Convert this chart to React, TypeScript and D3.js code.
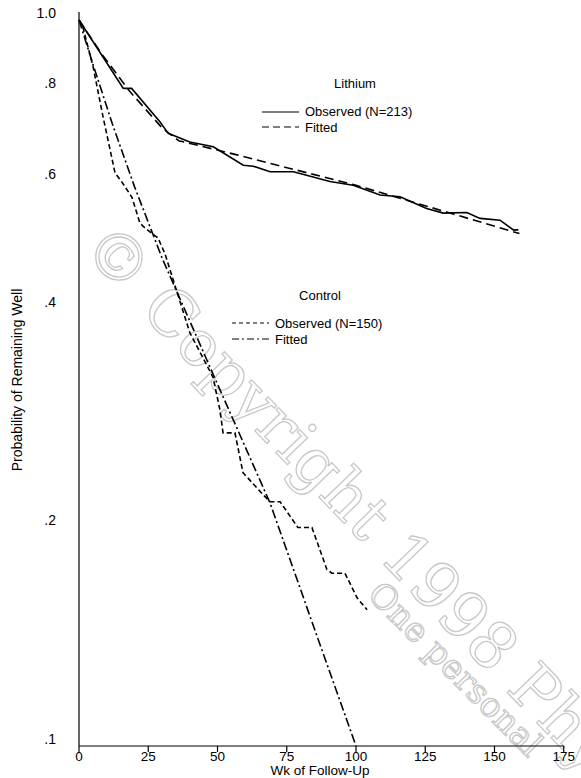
import React from "react";
import * as d3 from "d3";

const lithiumObserved: [number, number][] = [
  [0, 1], [16, 0.805], [19, 0.805], [29.2, 0.724], [32.2, 0.698], [40, 0.679], [48.5, 0.669],
  [59.3, 0.631], [62.9, 0.629], [69, 0.618], [77.4, 0.618], [90.6, 0.599], [99, 0.592],
  [108.7, 0.574], [115.9, 0.571], [125.5, 0.55], [131.5, 0.542], [140, 0.543], [144.8, 0.533],
  [152, 0.53], [156.8, 0.514], [158.6, 0.514],
];
const lithiumFitted: [number, number][] = [
  [0, 1], [8, 0.9], [18, 0.8], [30, 0.71], [36, 0.682], [57, 0.652], [100, 0.592], [159, 0.508],
];
const controlObserved: [number, number][] = [
  [0, 1], [1.4, 0.978], [5.1, 0.862], [8.7, 0.735], [13, 0.616], [15.5, 0.598], [19.1, 0.57],
  [22, 0.525], [23.8, 0.517], [28.5, 0.501], [31, 0.477], [40, 0.371], [48.4, 0.322],
  [50.9, 0.29], [52, 0.27], [56.3, 0.27], [59.2, 0.238], [66.4, 0.222], [69, 0.217],
  [72.6, 0.217], [79, 0.2], [84.1, 0.2], [89.5, 0.175], [91.3, 0.173], [96, 0.173],
  [100.4, 0.16], [104, 0.154],
];
const controlFitted: [number, number][] = [
  [0, 1], [5, 0.87], [12, 0.72], [20, 0.59], [30, 0.47], [50, 0.315], [69, 0.216], [85, 0.145], [100, 0.1],
];
const xTicks = [0, 25, 50, 75, 100, 125, 150, 175];
const yTicks = [0.1, 0.2, 0.4, 0.6, 0.8, 1.0];
const yTickLabels = [".1", ".2", ".4", ".6", ".8", "1.0"];

export default function App() {
  const x = d3.scaleLinear().domain([0, 175]).range([79, 563.75]);
  const y = d3.scaleLog().domain([0.1, 1]).range([746, 20]);
  const line = d3.line<[number, number]>().x((d) => x(d[0])).y((d) => y(d[1]));
  const font = "'Liberation Sans', Arial, sans-serif";
  return (
    <svg width={581} height={778} style={{ position: "absolute", left: 0, top: 0 }} fontFamily={font}>
      <rect width={581} height={778} fill="#fff" />
      <g fill="none" stroke="#c8c8c8" strokeWidth={1.3} fontFamily="'DejaVu Serif', serif">
        <text transform="translate(80,250) rotate(46)" fontSize={64} fill="none">© Copyright 1998 Phys</text>
        <text transform="translate(366,596) rotate(45)" fontSize={34} fill="none">One personal</text>
      </g>
      <line x1={x(0)} x2={x(0)} y1={12} y2={746} stroke="#000" strokeWidth={1.2} />
      <line x1={x(0)} x2={x(175)} y1={746} y2={746} stroke="#000" strokeWidth={1.2} />
      {xTicks.map((t) => (
        <g key={t}>
          <line x1={x(t)} x2={x(t)} y1={746} y2={752} stroke="#000" strokeWidth={1.2} />
          <text x={x(t)} y={761} fontSize={13.5} textAnchor="middle">{t}</text>
        </g>
      ))}
      {yTicks.map((t, i) => (
        <text key={t} x={56} y={y(t) - 6} fontSize={14} textAnchor="end" dominantBaseline="middle">{yTickLabels[i]}</text>
      ))}
      <text transform="translate(22,380) rotate(-90)" fontSize={14} textAnchor="middle">Probability of Remaining Well</text>
      <text x={320} y={775} fontSize={13.5} textAnchor="middle">Wk of Follow-Up</text>
      <path d={line(lithiumObserved)!} fill="none" stroke="#000" strokeWidth={1.6} />
      <path d={line(lithiumFitted)!} fill="none" stroke="#000" strokeWidth={1.6} strokeDasharray="9,5" />
      <path d={line(controlObserved)!} fill="none" stroke="#000" strokeWidth={1.6} strokeDasharray="5,3" />
      <path d={line(controlFitted)!} fill="none" stroke="#000" strokeWidth={1.6} strokeDasharray="9,3,2,3" />
      <text x={355} y={88} fontSize={13} textAnchor="middle">Lithium</text>
      <line x1={262} x2={299} y1={112} y2={112} stroke="#000" strokeWidth={1.2} />
      <text x={305} y={116} fontSize={13}>Observed (N=213)</text>
      <line x1={262} x2={299} y1={127} y2={127} stroke="#000" strokeWidth={1.2} strokeDasharray="7,4" />
      <text x={305} y={132} fontSize={13}>Fitted</text>
      <text x={320} y={300} fontSize={13} textAnchor="middle">Control</text>
      <line x1={232} x2={269} y1={323} y2={323} stroke="#000" strokeWidth={1.2} strokeDasharray="4,3" />
      <text x={275} y={328} fontSize={13}>Observed (N=150)</text>
      <line x1={232} x2={269} y1={339} y2={339} stroke="#000" strokeWidth={1.2} strokeDasharray="7,3,2,3" />
      <text x={275} y={344} fontSize={13}>Fitted</text>
    </svg>
  );
}
